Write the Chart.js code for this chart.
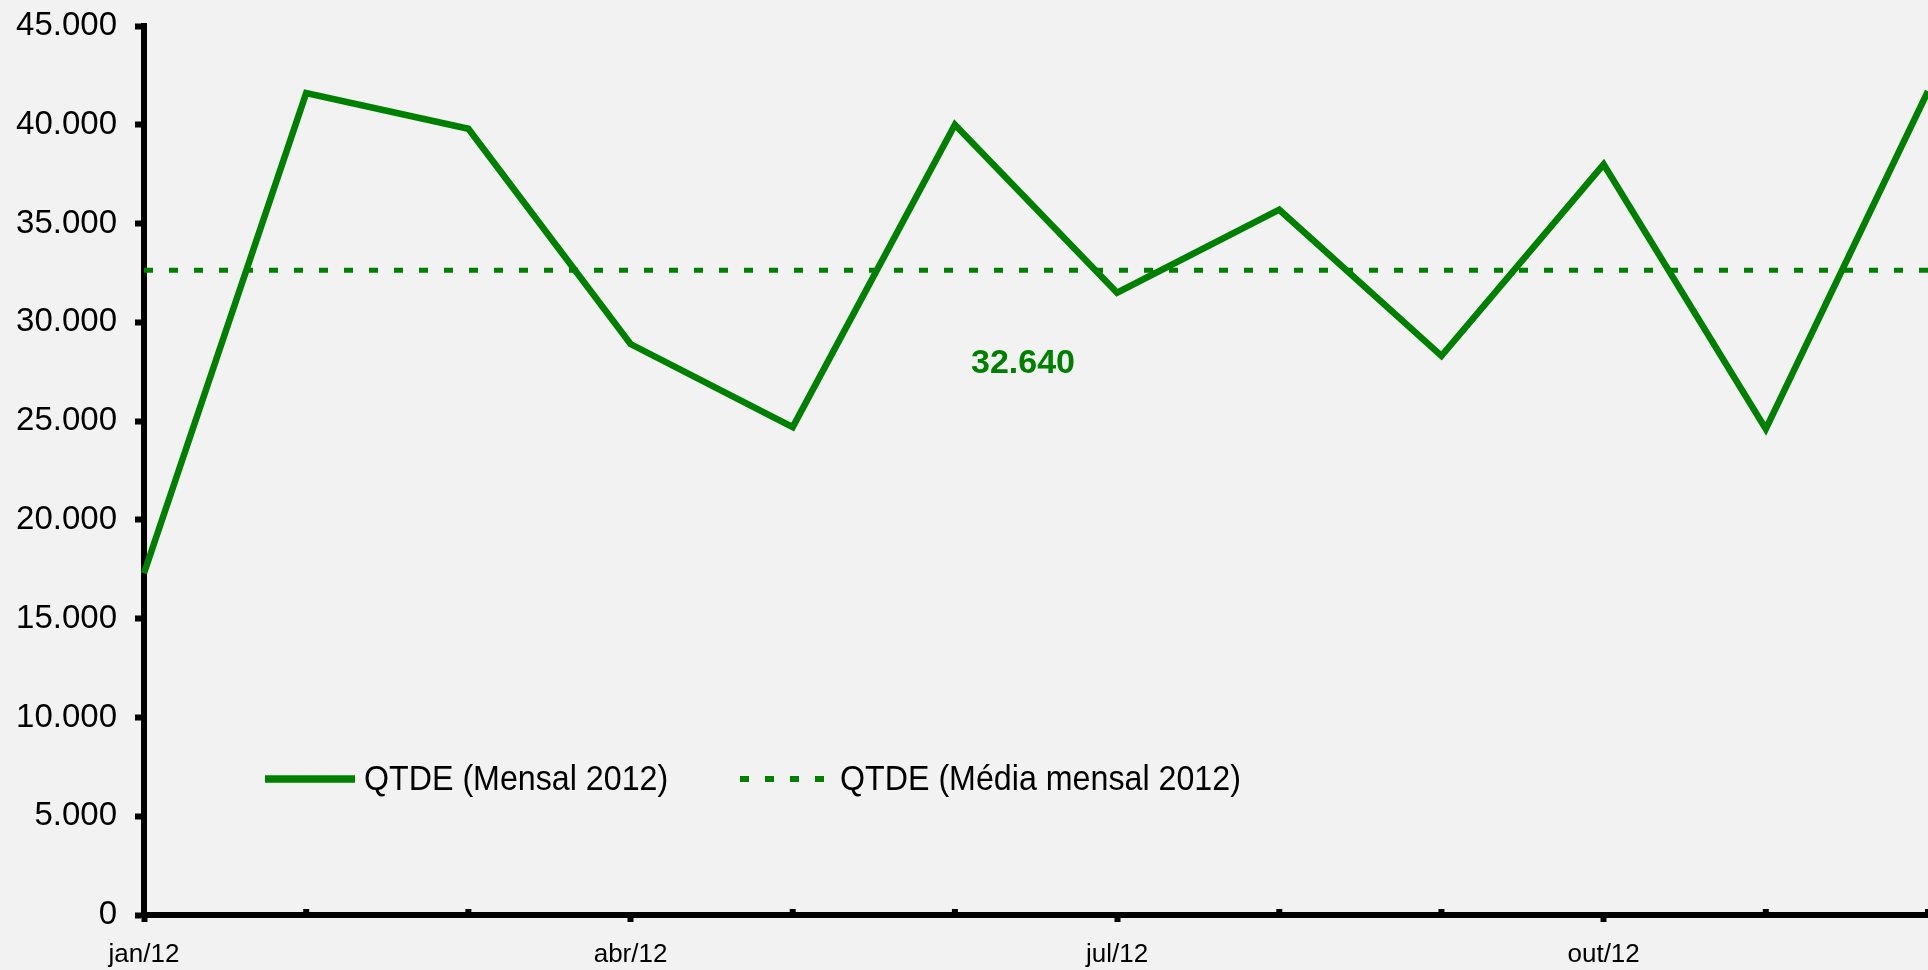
<!DOCTYPE html>
<html>
<head>
<meta charset="utf-8">
<script src="https://cdn.jsdelivr.net/npm/chart.js@4"></script>
<style>
  html, body { margin: 0; padding: 0; background: #f2f2f2; overflow: hidden; }
  #wrap { width: 1928px; height: 970px; position: relative; }
</style>
</head>
<body>
<div id="wrap"><canvas id="c"></canvas></div>
<script>
// --- Data ---
const meses = ['jan/12', 'fev/12', 'mar/12', 'abr/12', 'mai/12', 'jun/12',
               'jul/12', 'ago/12', 'set/12', 'out/12', 'nov/12', 'dez/12'];
const qtdeMensal = [17300, 41600, 39800, 28900, 24700, 40000,
                    31500, 35700, 28300, 38000, 24600, 41700];
const mediaMensal = [32640, 32640, 32640, 32640, 32640, 32640,
                     32640, 32640, 32640, 32640, 32640, 32640];
const mediaLabel = '32.640';
const serieNomes = ['QTDE (Mensal 2012)', 'QTDE (Média mensal 2012)'];

const verde = '#008000';
const fontFam = '"Liberation Sans", Arial, sans-serif';

function fmt(v) {
  return String(v).replace(/\B(?=(\d{3})+(?!\d))/g, '.');
}

// draws inner minor ticks, the average label and the in-plot legend
const extras = {
  id: 'extras',
  afterDatasetsDraw(chart) {
    const ctx = chart.ctx;
    const x = chart.scales.x, y = chart.scales.y;
    ctx.save();

    // minor ticks pointing up
    ctx.strokeStyle = '#000';
    ctx.lineWidth = 6;
    x.ticks.forEach((t, i) => {
      if (i % 3 === 0) return;
      const px = x.getPixelForTick(i);
      ctx.beginPath();
      ctx.moveTo(px, y.bottom);
      ctx.lineTo(px, y.bottom - 6);
      ctx.stroke();
    });

    // average label
    ctx.fillStyle = verde;
    ctx.font = 'bold 34px ' + fontFam;
    ctx.textAlign = 'center';
    ctx.textBaseline = 'middle';
    ctx.fillText(mediaLabel, x.getPixelForValue(5.42), y.getPixelForValue(27900));

    // legend
    const ly = 779;
    const items = [
      { x0: 265, x1: 355, tx: 364, ds: chart.data.datasets[0] },
      { x0: 740, x1: 826, tx: 840, ds: chart.data.datasets[1] }
    ];
    ctx.textAlign = 'left';
    items.forEach(it => {
      ctx.strokeStyle = it.ds.borderColor;
      ctx.lineWidth = it.ds.borderWidth + 1;
      ctx.setLineDash(it.ds.borderDash || []);
      ctx.lineCap = 'butt';
      ctx.beginPath();
      ctx.moveTo(it.x0, ly);
      ctx.lineTo(it.x1, ly);
      ctx.stroke();
      ctx.setLineDash([]);
      ctx.save();
      ctx.translate(it.tx, ly + 1);
      ctx.scale(0.92, 1);
      ctx.fillStyle = '#000';
      ctx.font = '35px ' + fontFam;
      ctx.fillText(it.ds.label, 0, 0);
      ctx.restore();
    });
    ctx.restore();
  }
};

new Chart(document.getElementById('c'), {
  type: 'line',
  data: {
    labels: meses,
    datasets: [
      {
        label: serieNomes[0],
        data: qtdeMensal,
        borderColor: verde,
        borderWidth: 6.5,
        pointRadius: 0,
        tension: 0,
        fill: false
      },
      {
        label: serieNomes[1],
        data: mediaMensal,
        borderColor: verde,
        borderWidth: 5,
        borderDash: [9, 16],
        pointRadius: 0,
        fill: false
      }
    ]
  },
  options: {
    responsive: true,
    maintainAspectRatio: false,
    animation: false,
    layout: { padding: { top: 26, right: -5, left: 0, bottom: 0 } },
    plugins: { legend: { display: false }, tooltip: { enabled: false } },
    scales: {
      x: {
        offset: false,
        border: { color: '#000', width: 6 },
        grid: {
          drawOnChartArea: false,
          drawTicks: true,
          tickLength: 7,
          tickWidth: 6,
          tickColor: c => (c.index % 3 === 0 ? '#000' : 'rgba(0,0,0,0)')
        },
        ticks: {
          autoSkip: false,
          maxRotation: 0,
          padding: 17,
          color: '#000',
          font: { family: fontFam, size: 26 },
          callback: (v, i) => (i % 3 === 0 ? meses[i] : '')
        },
        afterFit: s => { s.height = 55; s.paddingLeft = 0; s.paddingRight = 0; }
      },
      y: {
        min: 0,
        max: 45000,
        border: { color: '#000', width: 6 },
        grid: {
          drawOnChartArea: false,
          drawTicks: true,
          tickLength: 9,
          tickWidth: 6,
          tickColor: '#000'
        },
        ticks: {
          stepSize: 5000,
          padding: 18,
          color: '#000',
          font: { family: fontFam, size: 33 },
          callback: v => fmt(v)
        },
        afterFit: s => { s.width = 144; s.paddingTop = 0; s.paddingBottom = 0; }
      }
    }
  },
  plugins: [extras]
});
</script>
</body>
</html>
